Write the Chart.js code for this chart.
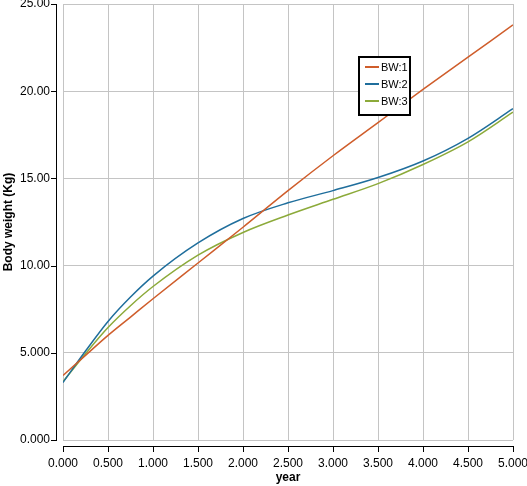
<!DOCTYPE html>
<html>
<head>
<meta charset="utf-8">
<script src="https://cdn.jsdelivr.net/npm/chart.js@4/dist/chart.umd.min.js"></script>
<style>
  html, body { margin: 0; padding: 0; background: #fff; }
  #wrap { width: 527px; height: 486px; }
</style>
</head>
<body>
<div id="wrap"><canvas id="bw-chart" width="527" height="486"></canvas></div>
<script>
// body weight by age
const years = [0, 0.25, 0.5, 0.75, 1, 1.5, 2, 2.5, 3, 3.5, 4, 4.5, 5];
const bw1 = [3.7, 4.85, 6.0, 7.05, 8.1, 10.15, 12.2, 14.3, 16.3, 18.2, 20.1, 21.95, 23.8];
const bw2 = [3.3, 5.1, 6.8, 8.2, 9.4, 11.3, 12.7, 13.6, 14.3, 15.05, 16.0, 17.3, 19.0];
const bw3 = [3.35, 4.95, 6.45, 7.7, 8.8, 10.6, 11.9, 12.9, 13.8, 14.7, 15.8, 17.1, 18.8];
const seriesNames = ['BW:1', 'BW:2', 'BW:3'];
const seriesColors = ['#cf5d2b', '#1f6e9c', '#8caa3a'];
const xTickLabels = ['0.000', '0.500', '1.000', '1.500', '2.000', '2.500', '3.000', '3.500', '4.000', '4.500', '5.000'];
const yTickLabels = ['0.000', '5.000', '10.00', '15.00', '20.00', '25.00'];

function toPoints(vals) {
    return vals.map(function (v, i) { return { x: years[i], y: v }; });
}

// black axis lines drawn a few pixels off the plot, plus the legend box
const axisAndLegend = {
    id: 'axisAndLegend',
    afterDraw: function (chart) {
        const ctx = chart.ctx;
        const a = chart.chartArea;
        const xs = chart.scales.x, ys = chart.scales.y;
        ctx.save();
        ctx.strokeStyle = '#000';
        ctx.lineWidth = 1;
        ctx.beginPath();
        ctx.moveTo(a.left - 6.5, a.top);
        ctx.lineTo(a.left - 6.5, a.bottom + 0.5);
        ctx.moveTo(a.left, a.bottom + 6.5);
        ctx.lineTo(a.right + 0.5, a.bottom + 6.5);
        xs.ticks.forEach(function (t) {
            const px = Math.round(xs.getPixelForValue(t.value)) + 0.5;
            ctx.moveTo(px, a.bottom + 6);
            ctx.lineTo(px, a.bottom + 12);
        });
        ys.ticks.forEach(function (t) {
            const py = Math.round(ys.getPixelForValue(t.value)) + 0.5;
            ctx.moveTo(a.left - 12, py);
            ctx.lineTo(a.left - 6, py);
        });
        ctx.stroke();

        // legend
        const bx = 359, by = 57, bw = 51, bh = 58;
        ctx.fillStyle = '#fff';
        ctx.fillRect(bx, by, bw, bh);
        ctx.lineWidth = 2;
        ctx.strokeRect(bx, by, bw, bh);
        ctx.font = '11px "Liberation Sans", Arial, sans-serif';
        ctx.textBaseline = 'middle';
        chart.data.datasets.forEach(function (ds, i) {
            const ry = 67 + i * 17;
            ctx.strokeStyle = ds.borderColor;
            ctx.beginPath();
            ctx.moveTo(365, ry);
            ctx.lineTo(379, ry);
            ctx.stroke();
            ctx.fillStyle = '#000';
            ctx.fillText(ds.label, 381, ry + 1);
        });
        ctx.restore();
    }
};

const datasets = [bw1, bw2, bw3].map(function (vals, i) {
    return {
        label: seriesNames[i],
        data: toPoints(vals),
        borderColor: seriesColors[i],
        backgroundColor: seriesColors[i],
        borderWidth: 1.5,
        pointRadius: 0,
        fill: false,
        cubicInterpolationMode: 'monotone'
    };
});

new Chart(document.getElementById('bw-chart').getContext('2d'), {
    type: 'line',
    data: { datasets: datasets },
    options: {
        responsive: false,
        animation: false,
        events: [],
        layout: { padding: { top: 4, right: 14, bottom: 0, left: 0 } },
        plugins: {
            legend: { display: false },
            tooltip: { enabled: false }
        },
        scales: {
            x: {
                type: 'linear',
                min: 0,
                max: 5,
                grid: { color: '#c4c4c4', drawTicks: false },
                border: { display: false },
                ticks: {
                    stepSize: 0.5,
                    maxRotation: 0,
                    autoSkip: false,
                    padding: 16,
                    color: '#000',
                    font: { family: '"Liberation Sans", Arial, sans-serif', size: 12 },
                    callback: function (v, i) { return xTickLabels[i]; }
                },
                title: {
                    display: true,
                    text: 'year',
                    color: '#000',
                    padding: { top: 0, bottom: 1 },
                    font: { family: '"Liberation Sans", Arial, sans-serif', size: 12, weight: 'bold' }
                },
                afterFit: function (s) {
                    s.height = 46;
                    s.paddingLeft = 0;
                    s.paddingRight = 0;
                }
            },
            y: {
                min: 0,
                max: 25,
                grid: { color: '#c4c4c4', drawTicks: false },
                border: { display: false },
                ticks: {
                    stepSize: 5,
                    padding: 13,
                    color: '#000',
                    font: { family: '"Liberation Sans", Arial, sans-serif', size: 12 },
                    callback: function (v, i) { return yTickLabels[i]; }
                },
                title: {
                    display: true,
                    text: 'Body weight (Kg)',
                    color: '#000',
                    padding: { top: 1, bottom: 0 },
                    font: { family: '"Liberation Sans", Arial, sans-serif', size: 12, weight: 'bold' }
                },
                afterFit: function (s) {
                    s.width = 63;
                    s.paddingTop = 0;
                    s.paddingBottom = 0;
                }
            }
        }
    },
    plugins: [axisAndLegend]
});
</script>
</body>
</html>
